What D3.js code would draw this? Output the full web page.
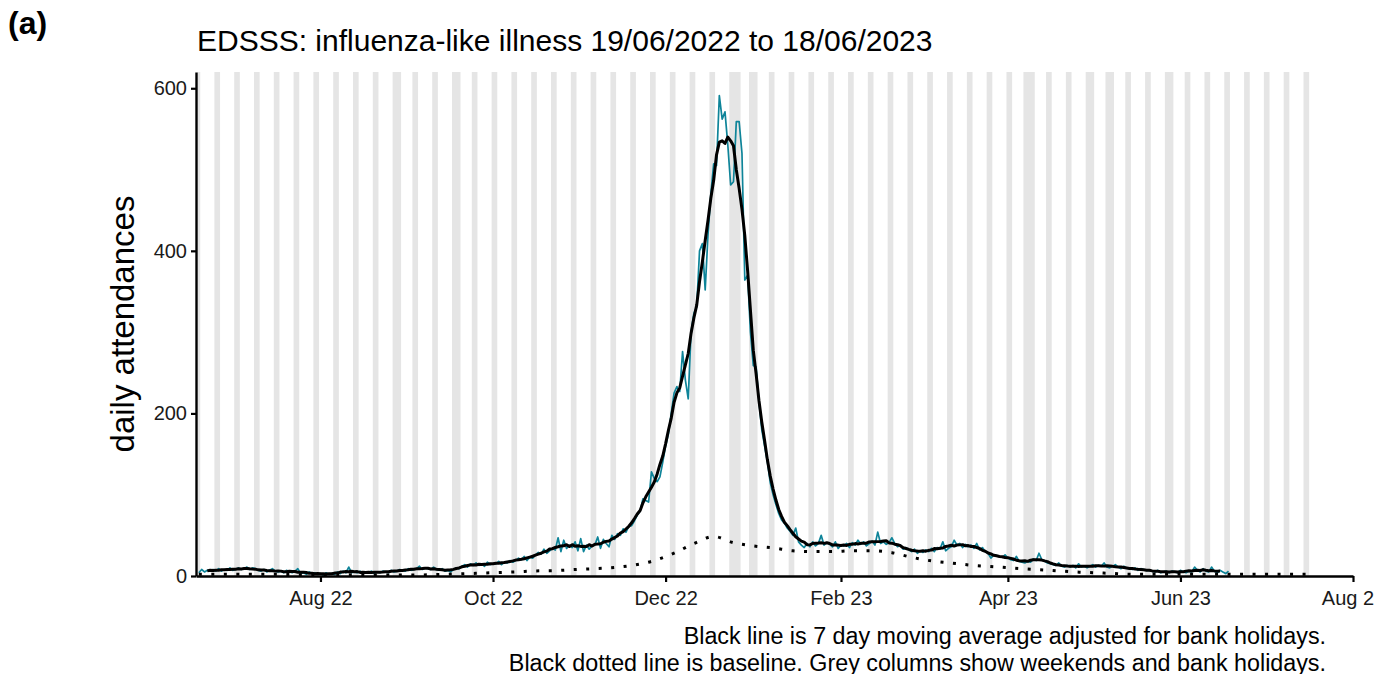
<!DOCTYPE html>
<html>
<head>
<meta charset="utf-8">
<script src="https://cdn.jsdelivr.net/npm/d3@7"></script>
<style>
  html, body { margin: 0; padding: 0; background: #ffffff; }
  svg { display: block; font-family: "Liberation Sans", Arial, Helvetica, sans-serif; }
</style>
</head>
<body>
<svg id="chart" width="1374" height="674"></svg>
<script>
// ---------------- DATA ----------------
const seriesStart = "2022-06-19";           // first day of the daily series (Sunday)
// daily ILI attendances, one value per day from 19/06/2022 to 18/06/2023 (rows = weeks Sun..Sat)
const dailyAttendances = [
  4, 8, 5, 7, 6, 8, 6,
  9, 6, 8, 7, 10, 7, 8,
  10, 8, 9, 11, 8, 10, 9,
  7, 6, 8, 5, 7, 9, 6,
  5, 6, 4, 7, 5, 4, 6,
  9, 3, 4, 2, 5, 3, 4,
  2, 3, 1, 4, 2, 3, 2,
  5, 3, 6, 4, 11, 4, 5,
  4, 6, 3, 5, 4, 6, 3,
  5, 4, 6, 5, 4, 7, 5,
  6, 8, 7, 6, 9, 7, 8,
  9, 12, 8, 10, 9, 8, 11,
  8, 7, 9, 6, 7, 5, 8,
  10, 9, 12, 14, 11, 15, 13,
  16, 13, 15, 12, 17, 14, 15,
  15, 18, 14, 17, 16, 19, 17,
  19, 22, 20, 24, 19, 23, 22,
  26, 29, 27, 33, 28, 31, 34,
  32, 47, 30, 44, 34, 38, 35,
  42, 31, 46, 30, 38, 33, 37,
  38, 48, 34, 45, 40, 36, 50,
  45, 52, 50, 58, 54, 61, 62,
  68, 75, 80, 95, 93, 91, 128,
  120, 116, 122, 140, 160, 175, 200,
  225, 233, 227, 276, 241, 218, 300,
  323, 331, 400, 409, 352, 420, 470,
  507, 505, 591, 562, 571, 530, 481,
  485, 559, 559, 520, 364, 370, 300,
  259, 257, 215, 180, 160, 140, 115,
  100, 88, 77, 69, 65, 59, 55,
  50, 59, 42, 38, 35, 40, 36,
  42, 37, 40, 50, 38, 41, 39,
  36, 42, 34, 38, 37, 40, 35,
  41, 38, 44, 39, 42, 37, 40,
  43, 38, 54, 40, 42, 39, 41,
  47, 40, 36, 38, 33, 35, 32,
  30, 33, 28, 31, 29, 32, 30,
  34, 30, 35, 33, 42, 31, 34,
  36, 44, 38, 40, 35, 39, 36,
  38, 34, 40, 32, 35, 30, 28,
  22, 26, 25, 24, 23, 26, 22,
  20, 19, 24, 18, 17, 16, 18,
  17, 21, 19, 28, 20, 18, 16,
  15, 14, 13, 16, 12, 11, 13,
  11, 13, 10, 15, 11, 12, 10,
  12, 14, 11, 13, 12, 16, 11,
  10, 12, 14, 11, 9, 12, 10,
  9, 8, 10, 7, 9, 8, 7,
  7, 6, 5, 7, 4, 5, 6,
  4, 6, 5, 4, 7, 5, 4,
  6, 5, 11, 7, 5, 9, 6,
  5, 11, 6, 4, 7, 5, 3,
  6
];
// baseline, read weekly (days after series start)
const baselineDays = [0,7,14,21,28,35,42,49,56,63,70,77,84,91,98,105,112,119,126,133,140,147,154,161,168,175,182,189,196,203,210,217,224,231,238,245,252,259,266,273,280,287,294,301,308,315,322,329,336,343,350,357,364,371,378,385,392];
const baselineValues = [2,2,2,2,2,1.5,1.5,1.5,1.5,1.2,1.2,1.2,1.8,2.6,3.3,4.2,5,6.2,6.6,8,9,10.5,13.5,19,28,40,48.5,41,37,34.5,31,30,30,31,31,28.7,23,18.6,16,13.3,11.6,10,8.3,7,5.3,4.2,3.3,2.2,2,2,2,2,2,2,2,2,2];
const bankHolidays = ["2022-08-29","2022-09-19","2022-12-26","2022-12-27","2023-01-02","2023-04-07","2023-04-10","2023-05-01","2023-05-08","2023-05-29"];
const columnsEnd = "2023-07-16";
const xTickDates = ["2022-08-01","2022-10-01","2022-12-01","2023-02-01","2023-04-01","2023-06-01","2023-08-01"];
const xDomain = ["2022-06-18","2023-08-01"];
const yDomain = [0, 620];
const yTicks = [0, 200, 400, 600];
const titleText = "EDSSS: influenza-like illness 19/06/2022 to 18/06/2023";
const panelLabel = "(a)";
const yLabel = "daily attendances";
const footnotes = ["Black line is 7 day moving average adjusted for bank holidays.",
                   "Black dotted line is baseline. Grey columns show weekends and bank holidays."];

// ---------------- CHART ----------------
const parse = d3.utcParse("%Y-%m-%d");
const svg = d3.select("#chart");
const plot = {left: 196, right: 1353, top: 72, bottom: 576};

const x = d3.scaleUtc().domain(xDomain.map(parse)).range([plot.left, plot.right]);
const y = d3.scaleLinear().domain(yDomain).range([plot.bottom, plot.top]);

const start = parse(seriesStart);
const daily = dailyAttendances.map((v, i) => ({date: d3.utcDay.offset(start, i), value: v}));
// centred 7-day moving average
const ma = [];
for (let i = 3; i < daily.length - 3; i++) {
  ma.push({date: daily[i].date, value: d3.mean(dailyAttendances.slice(i - 3, i + 4))});
}
const baseline = baselineDays.map((d, i) => ({date: d3.utcDay.offset(start, d), value: baselineValues[i]}));

// grey columns: weekends + bank holidays, merged into runs
const bh = new Set(bankHolidays);
const fmt = d3.utcFormat("%Y-%m-%d");
const days = d3.utcDay.range(start, d3.utcDay.offset(parse(columnsEnd), 1));
const runs = [];
let cur = null;
days.forEach(d => {
  const dow = d.getUTCDay();
  const grey = dow === 0 || dow === 6 || bh.has(fmt(d));
  if (grey) {
    if (cur && +d3.utcDay.offset(cur.end, 1) === +d) cur.end = d;
    else { cur = {start: d, end: d}; runs.push(cur); }
  }
});
const halfDay = 12 * 3600 * 1000;
svg.append("g").selectAll("rect").data(runs).join("rect")
  .attr("x", d => x(new Date(+d.start - halfDay)))
  .attr("width", d => x(new Date(+d.end + halfDay)) - x(new Date(+d.start - halfDay)))
  .attr("y", plot.top)
  .attr("height", plot.bottom - plot.top)
  .attr("fill", "#e5e5e5");

// daily series
svg.append("path").datum(daily)
  .attr("fill", "none").attr("stroke", "#0e8499").attr("stroke-width", 1.7)
  .attr("stroke-linejoin", "round")
  .attr("d", d3.line().x(d => x(d.date)).y(d => y(d.value)));

// baseline
svg.append("path").datum(baseline)
  .attr("fill", "none").attr("stroke", "#000").attr("stroke-width", 3)
  .attr("stroke-dasharray", "3,9.5")
  .attr("d", d3.line().curve(d3.curveMonotoneX).x(d => x(d.date)).y(d => y(d.value)));

// moving average
svg.append("path").datum(ma)
  .attr("fill", "none").attr("stroke", "#000").attr("stroke-width", 3)
  .attr("stroke-linejoin", "round")
  .attr("d", d3.line().x(d => x(d.date)).y(d => y(d.value)));

// axes
const xAxis = d3.axisBottom(x).tickValues(xTickDates.map(parse))
  .tickFormat(d3.utcFormat("%b %y")).tickSize(6).tickSizeOuter(0).tickPadding(9);
const gx = svg.append("g").attr("transform", `translate(0,${plot.bottom})`).call(xAxis);
gx.select(".domain").attr("stroke", "#000").attr("stroke-width", 2.4);
gx.selectAll(".tick line").attr("stroke", "#000").attr("stroke-width", 2.2);
gx.selectAll(".tick text").attr("fill", "#1a1a1a").style("font-size", "20px")
  .style("font-family", "'Liberation Sans', Arial, sans-serif");

const yAxis = d3.axisLeft(y).tickValues(yTicks).tickSize(5).tickSizeOuter(0).tickPadding(4);
const gy = svg.append("g").attr("transform", `translate(${plot.left},0)`).call(yAxis);
gy.select(".domain").attr("stroke", "#000").attr("stroke-width", 2.4);
gy.selectAll(".tick line").attr("stroke", "#000").attr("stroke-width", 2.2);
gy.selectAll(".tick text").attr("fill", "#1a1a1a").style("font-size", "20px")
  .style("font-family", "'Liberation Sans', Arial, sans-serif");

// texts
svg.append("text").attr("x", 8).attr("y", 34)
  .style("font-size", "32px").style("font-weight", "bold").attr("fill", "#000").text(panelLabel);
svg.append("text").attr("x", 197).attr("y", 51)
  .style("font-size", "30px").attr("fill", "#000").text(titleText);
svg.append("text")
  .attr("transform", `translate(134,${(plot.top + plot.bottom) / 2}) rotate(-90)`)
  .attr("text-anchor", "middle").style("font-size", "33px").attr("fill", "#000").text(yLabel);
footnotes.forEach((t, i) => {
  svg.append("text").attr("x", 1326).attr("y", 644 + i * 26.5)
    .attr("text-anchor", "end").style("font-size", "23.3px").attr("fill", "#000").text(t);
});
</script>
</body>
</html>
